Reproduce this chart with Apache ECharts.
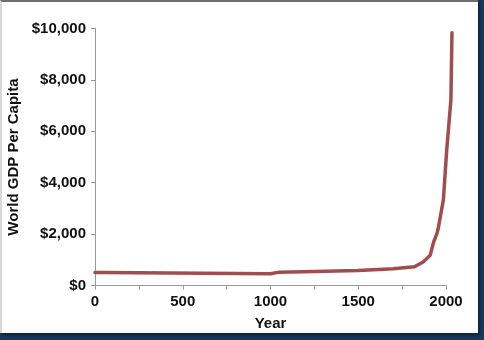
<!DOCTYPE html>
<html><head><meta charset="utf-8">
<script src="https://cdn.jsdelivr.net/npm/echarts@6/dist/echarts.min.js"></script>
<style>
html,body{margin:0;padding:0;width:484px;height:340px;overflow:hidden;background:#1b3a5a;}
#frame{position:absolute;left:0;top:0;width:478px;height:333px;background:#fff;border-top:2px solid #6f6f6f;border-left:2px solid #d8d8d8;box-sizing:border-box;box-shadow:2px 2px 3px #0d2238;}
#c{position:absolute;left:0;top:0;width:484px;height:340px;}
</style></head>
<body>
<div id="frame"></div>
<div id="c"></div>
<script>
const years = [0, 50, 60, 1000, 1050, 1250, 1500, 1700, 1820, 1870, 1910, 1930, 1949, 1955, 1985, 2004, 2028, 2034];
const gdpPerCapita = [510, 510, 460, 460, 520, 545, 580, 650, 730, 915, 1180, 1700, 2040, 2200, 3330, 5270, 7220, 9830];
const xTickLabels = [0, 500, 1000, 1500, 2000];
const yTickLabels = ['$0', '$2,000', '$4,000', '$6,000', '$8,000', '$10,000'];

const chart = echarts.init(document.getElementById('c'), null, {renderer: 'canvas'});
const font = {fontFamily: 'Liberation Sans, Arial, sans-serif', fontWeight: 'bold', color: '#111', fontSize: 15};
const L = 95, R = 38, T = 28.5, B = 54.5;
const plotW = 484 - L - R;
const axisMax = 2000, dataMax = 2040;
const R2 = R - plotW * (dataMax - axisMax) / axisMax;
chart.setOption({
  backgroundColor: 'transparent',
  animation: false,
  grid: [
    {left: L, right: R, top: T, bottom: B, outerBoundsMode: 'none', containLabel: false},
    {left: L, right: R2, top: T, bottom: B, outerBoundsMode: 'none', containLabel: false}
  ],
  xAxis: [{
    gridIndex: 0, type: 'value', min: 0, max: axisMax, interval: 250,
    name: 'Year', nameLocation: 'middle', nameGap: 31,
    nameTextStyle: Object.assign({}, font),
    axisLine: {show: true, lineStyle: {color: '#999', width: 1}},
    axisTick: {show: true, length: 4, lineStyle: {color: '#999'}},
    splitLine: {show: false},
    axisLabel: Object.assign({}, font, {margin: 9,
      formatter: v => xTickLabels.indexOf(v) >= 0 ? String(v) : ''})
  }, {
    gridIndex: 1, type: 'value', min: 0, max: dataMax, show: false
  }],
  yAxis: [{
    gridIndex: 0, type: 'value', min: 0, max: 10000, interval: 2000,
    name: 'World GDP Per Capita', nameLocation: 'middle', nameGap: 70, nameRotate: 90,
    nameTextStyle: Object.assign({}, font),
    axisLine: {show: true, lineStyle: {color: '#999', width: 1}},
    axisTick: {show: true, length: 4, lineStyle: {color: '#999'}},
    splitLine: {show: false},
    axisLabel: Object.assign({}, font, {margin: 9,
      formatter: v => yTickLabels[v / 2000]})
  }, {
    gridIndex: 1, type: 'value', min: 0, max: 10000, show: false
  }],
  series: [{
    type: 'line', xAxisIndex: 1, yAxisIndex: 1,
    data: years.map((y, i) => [y, gdpPerCapita[i]]),
    showSymbol: false, clip: false,
    lineStyle: {color: '#9e4e4e', width: 3.5, join: 'round', cap: 'round'},
    itemStyle: {color: '#9e4e4e'}
  }]
});
</script>
</body></html>
